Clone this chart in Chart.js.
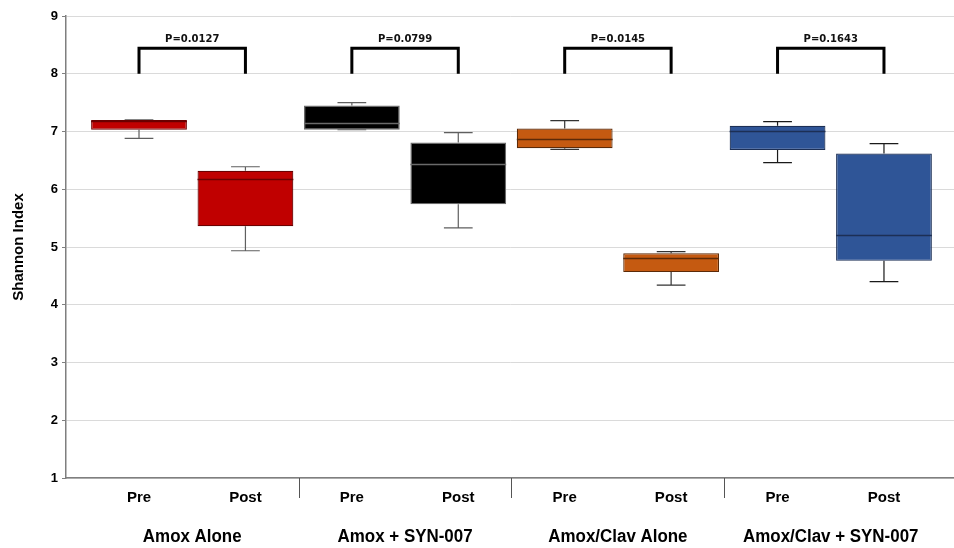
<!DOCTYPE html>
<html>
<head>
<meta charset="utf-8">
<script src="https://cdn.jsdelivr.net/npm/chart.js@4/dist/chart.umd.min.js"></script>
<style>
    html, body { margin: 0; padding: 0; background: #fff; }
    canvas { display: block; }
</style>
</head>
<body>
<canvas id="shannon" width="954" height="548"></canvas>
<script>
    'use strict';

    // values
    var phaseLabels = ['Pre', 'Post', 'Pre', 'Post', 'Pre', 'Post', 'Pre', 'Post'];
    var groupLabels = ['Amox Alone', 'Amox + SYN-007', 'Amox/Clav Alone', 'Amox/Clav + SYN-007'];
    var pValues = ['P=0.0127', 'P=0.0799', 'P=0.0145', 'P=0.1643'];

    var whiskerLow  = [6.88, 4.935, 7.03, 5.33, 6.69, 4.34, 6.46, 4.40];
    var q1          = [7.03, 5.36, 7.03, 5.74, 6.71, 4.565, 6.68, 4.76];
    var median      = [7.19, 6.175, 7.15, 6.435, 6.875, 4.81, 7.01, 5.20];
    var q3          = [7.20, 6.32, 7.45, 6.81, 7.05, 4.89, 7.10, 6.62];
    var whiskerHigh = [7.20, 6.39, 7.50, 6.98, 7.19, 4.92, 7.17, 6.79];

    var yTicks = [1, 2, 3, 4, 5, 6, 7, 8, 9];

    var boxFill    = ['#C00000', '#C00000', '#000000', '#000000', '#C55A11', '#C55A11', '#2F5597', '#2F5597'];
    var boxBorder  = ['#6b0000', '#6b0000', '#6a6a6a', '#6a6a6a', '#5c2a08', '#5c2a08', '#1c2f55', '#1c2f55'];
    var whiskerCol = ['#5f5f5f', '#5f5f5f', '#5f5f5f', '#5f5f5f', '#333333', '#333333', '#1a1a1a', '#1a1a1a'];

    var bracketTop = 8.44;
    var bracketFoot = 8.0;
    var pLabelAt = 8.59;

    var arial = "'Liberation Sans', Arial, sans-serif";

    var boxData = q1.map(function (lo, i) {
        return {x: i, y: [lo, q3[i]]};
    });

    // whiskers, medians, brackets and the grouped x labels
    var boxExtras = {
        id: 'boxExtras',
        beforeDatasetsDraw: function (chart) {
            var ctx = chart.ctx;
            var x = chart.scales.x;
            var y = chart.scales.y;
            var bars = chart.getDatasetMeta(0).data;
            ctx.save();
            ctx.lineWidth = 1.2;
            bars.forEach(function (bar, i) {
                var cx = x.getPixelForValue(i);
                var cap = bar.width * 0.15;
                ctx.strokeStyle = whiskerCol[i];
                ctx.beginPath();
                ctx.moveTo(cx, y.getPixelForValue(q3[i]));
                ctx.lineTo(cx, y.getPixelForValue(whiskerHigh[i]));
                ctx.moveTo(cx - cap, y.getPixelForValue(whiskerHigh[i]));
                ctx.lineTo(cx + cap, y.getPixelForValue(whiskerHigh[i]));
                ctx.moveTo(cx, y.getPixelForValue(q1[i]));
                ctx.lineTo(cx, y.getPixelForValue(whiskerLow[i]));
                ctx.moveTo(cx - cap, y.getPixelForValue(whiskerLow[i]));
                ctx.lineTo(cx + cap, y.getPixelForValue(whiskerLow[i]));
                ctx.stroke();
            });
            ctx.restore();
        },
        afterDatasetsDraw: function (chart) {
            var ctx = chart.ctx;
            var x = chart.scales.x;
            var y = chart.scales.y;
            var bars = chart.getDatasetMeta(0).data;
            ctx.save();

            ctx.lineWidth = 1.5;
            bars.forEach(function (bar, i) {
                var my = Math.round(y.getPixelForValue(median[i])) + 0.5;
                ctx.strokeStyle = boxBorder[i];
                ctx.beginPath();
                ctx.moveTo(bar.x - bar.width / 2, my);
                ctx.lineTo(bar.x + bar.width / 2, my);
                ctx.stroke();
            });

            ctx.strokeStyle = '#000';
            ctx.lineWidth = 3;
            ctx.fillStyle = '#111';
            ctx.font = "bold 10px 'DejaVu Sans', sans-serif";
            ctx.textAlign = 'center';
            ctx.textBaseline = 'middle';
            pValues.forEach(function (label, g) {
                var x0 = x.getPixelForValue(2 * g);
                var x1 = x.getPixelForValue(2 * g + 1);
                var yt = y.getPixelForValue(bracketTop);
                var yb = y.getPixelForValue(bracketFoot);
                ctx.beginPath();
                ctx.moveTo(x0, yb);
                ctx.lineTo(x0, yt);
                ctx.lineTo(x1, yt);
                ctx.lineTo(x1, yb);
                ctx.stroke();
                ctx.fillText(label, (x0 + x1) / 2, y.getPixelForValue(pLabelAt));
            });

            // group separators below the axis
            var base = chart.chartArea.bottom;
            ctx.strokeStyle = '#555';
            ctx.lineWidth = 1;
            for (var g = 0; g < groupLabels.length - 1; g++) {
                var sx = Math.round(x.getPixelForValue(2 * g + 1.5)) + 0.5;
                ctx.beginPath();
                ctx.moveTo(sx, base);
                ctx.lineTo(sx, base + 20);
                ctx.stroke();
            }

            // slightly condensed group names, like the original narrow face
            ctx.fillStyle = '#000';
            ctx.font = 'bold 18px ' + arial;
            groupLabels.forEach(function (label, g) {
                ctx.save();
                ctx.translate(x.getPixelForValue(2 * g + 0.5), base + 59);
                ctx.scale(0.94, 1);
                ctx.fillText(label, 0, 0);
                ctx.restore();
            });
            ctx.restore();
        }
    };

    var config = {
        type: 'bar',
        data: {
            datasets: [{
                data: boxData,
                backgroundColor: boxFill,
                borderColor: boxBorder,
                borderWidth: 1.2,
                borderSkipped: false,
                categoryPercentage: 1,
                barPercentage: 0.9
            }]
        },
        options: {
            responsive: false,
            animation: false,
            layout: {padding: {top: 16, right: 0, bottom: 0, left: 0}},
            plugins: {
                legend: {display: false},
                tooltip: {enabled: false}
            },
            scales: {
                x: {
                    type: 'linear',
                    offset: false,
                    min: -0.686,
                    max: 7.658,
                    afterBuildTicks: function (scale) {
                        scale.ticks = phaseLabels.map(function (l, i) { return {value: i}; });
                    },
                    afterFit: function (scale) { scale.height = 70; },
                    grid: {display: false, drawTicks: false},
                    border: {display: true, color: '#7f7f7f', width: 1.5},
                    ticks: {
                        padding: 11,
                        color: '#000',
                        maxRotation: 0,
                        autoSkip: false,
                        font: {family: arial, size: 15, weight: 'bold'},
                        callback: function (v) { return phaseLabels[v]; }
                    }
                },
                y: {
                    min: 1,
                    max: 9,
                    afterBuildTicks: function (scale) {
                        scale.ticks = yTicks.map(function (v) { return {value: v}; });
                    },
                    afterFit: function (scale) { scale.width = 66; },
                    grid: {color: '#dadada', tickColor: '#7f7f7f', tickLength: 4, lineWidth: 1},
                    border: {display: true, color: '#7f7f7f', width: 1.5},
                    ticks: {
                        padding: 4,
                        color: '#000',
                        font: {family: arial, size: 13, weight: 'bold'}
                    },
                    title: {
                        display: true,
                        text: 'Shannon Index',
                        color: '#000',
                        padding: {top: 10, bottom: 0},
                        font: {family: arial, size: 15, weight: 'bold'}
                    }
                }
            }
        },
        plugins: [boxExtras]
    };

    new Chart(document.getElementById('shannon').getContext('2d'), config);
</script>
</body>
</html>
